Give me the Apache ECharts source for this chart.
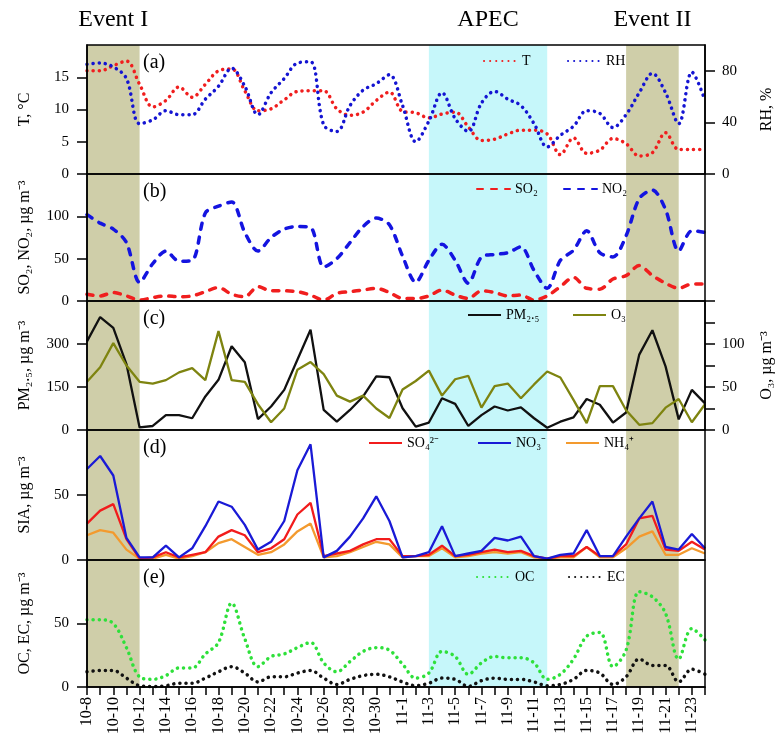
<!DOCTYPE html>
<html>
<head>
<meta charset="utf-8">
<script src="https://cdn.jsdelivr.net/npm/echarts@6/dist/echarts.min.js"></script>
<style>
  html, body { margin: 0; padding: 0; background: #fff; }
  #main { width: 779px; height: 743px; }
</style>
</head>
<body>
<div id="main"></div>
<script>
// daily axis, 10-8 .. 11-24
const dates = ['10-8', '10-9', '10-10', '10-11', '10-12', '10-13', '10-14', '10-15', '10-16', '10-17', '10-18', '10-19',
  '10-20', '10-21', '10-22', '10-23', '10-24', '10-25', '10-26', '10-27', '10-28', '10-29', '10-30', '10-31',
  '11-1', '11-2', '11-3', '11-4', '11-5', '11-6', '11-7', '11-8', '11-9', '11-10', '11-11', '11-12',
  '11-13', '11-14', '11-15', '11-16', '11-17', '11-18', '11-19', '11-20', '11-21', '11-22', '11-23', '11-24']

// shaded periods: [label, from, to]
const periods = [['Event I', '10-8', '10-12'], ['APEC', '11-3', '11-12'], ['Event II', '11-18', '11-22']]

// (a)
const tempT = [16.0, 16.0, 16.8, 17.5, 13.9, 10.4, 11.4, 13.5, 11.9, 13.9, 16.0, 16.3, 12.9, 9.8, 10.1, 11.5, 12.8, 12.9, 12.9, 10.1, 9.1, 9.6, 11.4, 12.7,
  9.7, 9.5, 8.7, 9.3, 9.6, 7.3, 5.2, 5.4, 6.2, 6.8, 6.8, 6.2, 3.0, 5.6, 3.2, 3.7, 5.5, 4.7, 2.8, 3.3, 6.4, 3.8, 3.8, 3.8]
const rh = [85, 86, 83, 74, 39, 42, 49, 46, 46, 58, 68, 82, 68, 46, 63, 74, 86, 87, 38, 33, 53, 65, 70, 77,
  53, 25, 41, 63, 43, 33, 55, 64, 58, 53, 39, 21, 30, 37, 49, 47, 36, 46, 63, 78, 63, 39, 79, 57]
// (b)
const so2 = [8, 6, 10, 6, 1, 4, 6, 5, 6, 11, 16, 8, 5, 17, 12, 12, 11, 7, 1, 9, 11, 13, 15, 10,
  3, 3, 6, 13, 7, 3, 12, 10, 6, 7, 1, 6, 17, 28, 15, 14, 26, 30, 42, 30, 21, 15, 20, 20]
const no2 = [102, 92, 85, 69, 22, 44, 59, 47, 48, 104, 112, 117, 81, 59, 75, 85, 88, 87, 40, 50, 69, 88, 98, 90,
  53, 22, 48, 67, 48, 21, 52, 55, 57, 64, 36, 15, 48, 60, 83, 57, 52, 77, 121, 131, 108, 59, 83, 81]
// (c)
const pm25 = [309, 394, 356, 230, 9, 14, 52, 52, 41, 117, 175, 292, 236, 38, 82, 140, 245, 350, 70, 29, 70, 117, 187, 184,
  76, 12, 26, 111, 91, 14, 52, 82, 68, 79, 41, 8, 29, 44, 108, 88, 26, 61, 263, 348, 222, 37, 140, 93]
const o3 = [56, 73, 101, 75, 56, 54, 58, 67, 72, 58, 115, 58, 56, 30, 9, 25, 70, 79, 65, 40, 33, 40, 25, 14,
  47, 57, 69, 40, 59, 63, 26, 51, 54, 37, 53, 68, 61, 35, 8, 51, 51, 23, 6, 8, 26, 36, 9, 30]
// (d)
const so4 = [28, 38, 43, 16, 1, 2, 6, 2, 4, 6, 18, 23, 19, 6, 9, 16, 35, 44, 3, 5, 7, 12, 16, 16,
  3, 3, 4, 11, 3, 4, 6, 8, 6, 7, 3, 1, 3, 3, 10, 3, 3, 12, 32, 34, 8, 7, 14, 8]
const no3 = [70, 80, 65, 17, 2, 2, 11, 2, 9, 26, 45, 41, 27, 8, 14, 30, 69, 89, 2, 7, 18, 32, 49, 30,
  2, 3, 6, 26, 3, 5, 7, 17, 15, 18, 3, 1, 4, 5, 23, 3, 3, 18, 32, 45, 10, 8, 20, 9]
const nh4 = [19, 23, 21, 8, 1, 1, 4, 1, 3, 6, 13, 16, 10, 4, 6, 12, 22, 28, 2, 3, 6, 10, 14, 12,
  2, 3, 3, 9, 2, 3, 5, 6, 5, 6, 2, 1, 2, 2, 10, 2, 2, 9, 18, 22, 4, 4, 9, 5]
// (e)
const oc = [53, 53, 50, 31, 8, 6, 9, 15, 15, 26, 35, 66, 38, 16, 24, 26, 31, 35, 19, 12, 20, 28, 31, 29,
  18, 7, 11, 28, 24, 10, 19, 24, 23, 23, 19, 6, 10, 22, 40, 43, 16, 29, 75, 71, 58, 22, 46, 37]
const ec = [12, 13, 13, 7, 1, 0.3, 1, 3, 3, 7, 12, 16, 11, 4, 8, 8, 11, 13, 7, 2, 6, 9, 10, 8,
  4, 1, 3, 7, 6, 0.5, 5, 7, 6, 6, 4, 1, 2, 6, 13, 11, 2, 8, 22, 17, 17, 4, 14, 10]

const FONT = 'Liberation Serif'
const OLIVE = '#CFCEA9'
const CYAN = '#C6F7FA'
const panels = [{ top: 45, height: 129 }, { top: 174, height: 127 }, { top: 301, height: 129 }, { top: 430, height: 130 }, { top: 560, height: 127 }]

const chart = echarts.init(document.getElementById('main'))

const shade = (withLabel) => ({
  silent: true,
  label: { show: withLabel, position: 'top', distance: 13, color: '#000', fontFamily: FONT, fontSize: 24 },
  data: periods.map(p => [
    { name: p[0], xAxis: p[1], itemStyle: { color: p[0] === 'APEC' ? CYAN : OLIVE } },
    { xAxis: p[2] }
  ])
})

const dotted = (color) => ({ color: color, width: 3.5, type: [0.1, 6], cap: 'round' })
const dashed = (color) => ({ color: color, width: 3.5, type: [6, 8], cap: 'round' })
const solid = (color) => ({ color: color, width: 2.3 })

function line (name, grid, yAxis, data, style, extra) {
  return Object.assign({
    name: name, type: 'line', xAxisIndex: grid, yAxisIndex: yAxis, data: data,
    symbol: 'none', lineStyle: style, itemStyle: { color: style.color }, z: 3
  }, extra || {})
}

const yBase = {
  splitLine: { show: false },
  axisLine: { show: true, lineStyle: { color: '#000', width: 1.5 } },
  axisTick: { show: true, length: 10, lineStyle: { color: '#000', width: 1.5 } },
  axisLabel: { color: '#000', fontFamily: FONT, fontSize: 15, margin: 18, showMaxLabel: false },
  nameLocation: 'middle',
  nameRotate: 90,
  nameMoveOverlap: false,
  nameTextStyle: { color: '#000', fontFamily: FONT, fontSize: 16 },
  z: 12
}
function yAxis (grid, pos, max, interval, name, gap, extra) {
  return Object.assign({}, yBase, {
    type: 'value', gridIndex: grid, position: pos, min: 0, max: max, interval: interval,
    name: name, nameGap: gap
  }, extra || {})
}

const legendDefs = [
  ['T', 483, 61], ['RH', 567, 61],
  ['SO₂', 476, 189], ['NO₂', 563, 189],
  ['PM₂.₅', 467, 315], ['O₃', 572, 315],
  ['SO₄²⁻', 368, 443], ['NO₃⁻', 477, 443], ['NH₄⁺', 565, 443],
  ['OC', 476, 577], ['EC', 568, 577]
]

const option = {
  animation: false,
  backgroundColor: '#fff',
  textStyle: { fontFamily: FONT },
  grid: panels.map(p => ({
    left: 87, right: 74, top: p.top, height: p.height,
    containLabel: false, outerBoundsMode: 'none',
    show: true, backgroundColor: 'transparent', borderColor: '#000', borderWidth: 1.5, z: 10
  })),
  xAxis: panels.map((p, i) => ({
    type: 'category', gridIndex: i, data: dates, boundaryGap: false, z: 12,
    axisLine: { show: i === 4, lineStyle: { color: '#000', width: 1.5 } },
    axisTick: { show: i === 4, interval: 0, length: 8, lineStyle: { color: '#000', width: 1.5 } },
    axisLabel: { show: i === 4, interval: 1, rotate: 90, color: '#000', fontFamily: FONT, fontSize: 16, margin: 10 },
    splitLine: { show: false }
  })),
  yAxis: [
    yAxis(0, 'left', 20, 5, 'T, °C', 54),
    yAxis(0, 'right', 100, 40, 'RH, %', 54, { axisLabel: Object.assign({}, yBase.axisLabel, { margin: 17 }) }),
    yAxis(1, 'left', 150, 50, 'SO₂, NO₂, µg m⁻³', 54),
    yAxis(2, 'left', 450, 150, 'PM₂.₅, µg m⁻³', 54),
    yAxis(2, 'right', 150, 50, 'O₃, µg m⁻³', 54, {
      axisLabel: Object.assign({}, yBase.axisLabel, { margin: 17 }),
      minorTick: { show: true, splitNumber: 2, length: 10, lineStyle: { color: '#000', width: 1.5 } }
    }),
    yAxis(3, 'left', 100, 50, 'SIA, µg m⁻³', 54),
    yAxis(4, 'left', 100, 50, 'OC, EC, µg m⁻³', 54)
  ],
  legend: legendDefs.map(d => ({
    data: [d[0]], left: d[1], top: d[2] - 7, itemWidth: 33, itemHeight: 14, padding: 0,
    selectedMode: false,
    itemStyle: { opacity: 0 },
    textStyle: { color: '#000', fontFamily: FONT, fontSize: 14 }
  })),
  graphic: ['(a)', '(b)', '(c)', '(d)', '(e)'].map((t, i) => ({
    type: 'text', left: 143, top: panels[i].top + 8, z: 20,
    style: { text: t, fill: '#000', font: '20px "Liberation Serif"' }
  })),
  series: [
    line('T', 0, 0, tempT, dotted('#F01E1E'), { smooth: 0.35, markArea: shade(true) }),
    line('RH', 0, 1, rh, dotted('#1414D2'), { smooth: 0.35 }),
    line('SO₂', 1, 2, so2, dashed('#F01E1E'), { smooth: 0.3, markArea: shade(false) }),
    line('NO₂', 1, 2, no2, dashed('#1414E0'), { smooth: 0.3 }),
    line('PM₂.₅', 2, 3, pm25, solid('#111111'), { markArea: shade(false) }),
    line('O₃', 2, 4, o3, solid('#7E8410')),
    line('NH₄⁺', 3, 5, nh4, solid('#F39A2E'), { markArea: shade(false) }),
    line('SO₄²⁻', 3, 5, so4, solid('#F21C1C')),
    line('NO₃⁻', 3, 5, no3, solid('#1A1AD6')),
    line('OC', 4, 6, oc, dotted('#2EE03A'), { smooth: 0.35, markArea: shade(false) }),
    line('EC', 4, 6, ec, dotted('#111111'), { smooth: 0.35 })
  ]
}

chart.setOption(option)
</script>
</body>
</html>
